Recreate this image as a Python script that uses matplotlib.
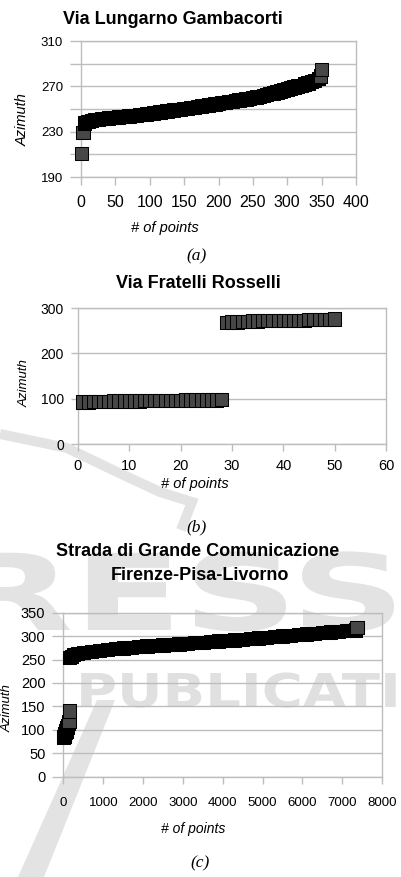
import numpy as np
import matplotlib
matplotlib.use("Agg")
import matplotlib.pyplot as plt
from matplotlib.textpath import TextPath
from matplotlib.patches import PathPatch, Polygon
from matplotlib.font_manager import FontProperties
from matplotlib.transforms import Affine2D, IdentityTransform
from matplotlib.lines import Line2D

# ---------------- data ----------------
title_a = "Via Lungarno Gambacorti"
a_x = [1, 3, 5, 10, 15, 20, 25, 30, 35, 40, 45, 50, 55, 60, 65, 70, 75, 80, 85, 90,
       95, 100, 105, 110, 115, 120, 125, 130, 135, 140, 145, 150, 155, 160, 165, 170,
       175, 180, 185, 190, 195, 200, 205, 210, 215, 220, 225, 230, 235, 240, 245, 250,
       255, 260, 265, 270, 275, 280, 285, 290, 295, 300, 305, 310, 315, 320, 325, 330,
       335, 340, 345, 348, 350]
a_y = [211, 229, 237.5, 239, 240, 240.5, 241, 241.5, 241.8, 242, 242.3, 242.6, 242.9,
       243.2, 243.5, 243.8, 244.2, 244.5, 244.9, 245.3, 245.7, 246.1, 246.5, 246.9,
       247.3, 247.7, 248.1, 248.5, 249, 249.4, 249.8, 250.2, 250.7, 251.1, 251.6, 252,
       252.5, 253, 253.5, 254, 254.5, 255, 255.5, 256, 256.4, 256.9, 257.4, 257.9,
       258.4, 258.9, 259.4, 260, 260.6, 261.2, 261.9, 262.6, 263.4, 264.2, 265.1, 266,
       266.8, 267.6, 268.5, 269.3, 270.2, 271, 272, 273, 274, 275.2, 276.8, 279, 285]
a_xticks = [0, 50, 100, 150, 200, 250, 300, 350, 400]
a_yticks = [190, 210, 230, 250, 270, 290, 310]
a_ylabels = ["190", "", "230", "", "270", "", "310"]

title_b = "Via Fratelli Rosselli"
b_x = list(range(1, 51))
b_y = [93, 93, 94, 94, 94, 94, 95, 95, 95, 95, 95, 95, 96, 96, 96, 96, 96, 96, 96, 96,
       97, 97, 97, 97, 97, 97, 97, 98,
       268, 269, 269, 270, 270, 271, 271, 272, 272, 272, 272, 273, 273, 273, 273, 273,
       274, 274, 274, 274, 274, 276]
b_xticks = [0, 10, 20, 30, 40, 50, 60]
b_yticks = [0, 100, 200, 300]

title_c1 = "Strada di Grande Comunicazione"
title_c2 = "Firenze-Pisa-Livorno"
c_x = [1, 10, 20, 30, 45, 60, 75, 90, 105, 120, 135, 148,
       155, 200, 250, 350, 500, 700, 900, 1100, 1300, 1500, 1700, 1900, 2100, 2300,
       2500, 2700, 2900, 3100, 3300, 3500, 3700, 3900, 4100, 4300, 4500, 4700, 4900,
       5100, 5300, 5500, 5700, 5900, 6100, 6300, 6500, 6700, 6900, 7100, 7250, 7340, 7370]
c_y = [84, 86, 88, 91, 94, 97, 101, 105, 109, 113, 117, 140,
       254, 257, 260, 263, 265, 267.5, 269.5, 271.5, 273, 274.5, 276, 277.5, 278.7, 280,
       281, 282.2, 283.4, 284.6, 285.8, 287, 288.3, 289.6, 290.8, 292, 293.3, 294.6, 296,
       297.3, 298.7, 300.2, 301.6, 303, 304.5, 306, 307.5, 309, 310.5, 312, 312.5, 313, 319]
c_xticks = [0, 1000, 2000, 3000, 4000, 5000, 6000, 7000, 8000]
c_yticks = [0, 50, 100, 150, 200, 250, 300, 350]

xlabel_txt = "# of points"
ylabel_txt = "Azimuth"
captions = ["(a)", "(b)", "(c)"]

assert len(a_x) == len(a_y) and len(b_x) == len(b_y) and len(c_x) == len(c_y)

# ---------------- style ----------------
W, H = 402, 877
GRID = "#bdbdbd"
FACE = "#474747"
WM = "#e3e3e3"
SANS = ["Liberation Sans", "DejaVu Sans"]
SERIF = ["Liberation Serif", "DejaVu Serif"]
MS = 9.6
MEW = 0.75

fig = plt.figure(figsize=(W / 100, H / 100), dpi=100)
fig.patch.set_facecolor("white")


def fx(px):
    return px / W


def fy(py):
    return 1 - py / H


def add_ax(l, t, r, b):
    ax = fig.add_axes([l / W, 1 - b / H, (r - l) / W, (b - t) / H])
    ax.set_facecolor("none")
    for s in ax.spines.values():
        s.set_color(GRID)
        s.set_linewidth(1.0)
    ax.yaxis.grid(True, color=GRID, lw=1.0)
    ax.set_axisbelow(True)
    return ax


def series(ax, x, y, dense_px):
    pts = ax.transData.transform(np.column_stack([x, y]))
    d = np.hypot(np.diff(pts[:, 0]), np.diff(pts[:, 1]))
    faces = [("black" if dd < dense_px else FACE) for dd in d] + [FACE]
    ax.scatter(x, y, marker="s", s=MS ** 2, facecolors=faces, edgecolors="black",
               linewidths=MEW, zorder=3, clip_on=False)


def ticks(ax, xl, yl, xsize, ysize, xpad, ypad):
    ax.tick_params(axis="x", direction="out", length=xl, width=1.0, color=GRID,
                   pad=xpad, labelsize=xsize, labelcolor="black")
    ax.tick_params(axis="y", direction="out", length=yl, width=1.0, color=GRID,
                   pad=ypad, labelsize=ysize, labelcolor="black")
    for lab in ax.get_xticklabels() + ax.get_yticklabels():
        lab.set_family(SANS)


# ---------------- watermark ----------------
bold = FontProperties(family="DejaVu Sans", weight="bold")
tp = TextPath((0, 0), "RESS", size=100, prop=bold)
fig.add_artist(PathPatch(tp, transform=Affine2D().scale(1.6, 1.06).translate(-50, H - 630),
                         color=WM, lw=0, zorder=-5))
tp2 = TextPath((0, 0), "PUBLICATIONS", size=100, prop=bold)
fig.add_artist(PathPatch(tp2, transform=Affine2D().scale(0.56, 0.466).translate(76, H - 707),
                         color="#e0e0e0", lw=0, zorder=-5))
fig.add_artist(Polygon([[97, H - 700], [115, H - 700], [44, H - 877], [18, H - 877]],
                       closed=True, transform=IdentityTransform(), color=WM, lw=0, zorder=-5))
fig.add_artist(Line2D([0, 67, 117, 160, 192, 181], [H - 434, H - 448, H - 472, H - 492, H - 502, H - 530],
                      transform=IdentityTransform(), color=WM, lw=7.2, zorder=-5,
                      solid_joinstyle="miter", solid_capstyle="butt"))

# ---------------- panel (a) ----------------
ax = add_ax(81, 41, 356, 177)
ax.set_xlim(0, 400)
ax.set_ylim(190, 310)
ax.set_xticks(a_xticks)
ax.set_yticks(a_yticks)
ax.set_yticklabels(a_ylabels)
ticks(ax, 6, 8, 11.5, 9.5, 7, 5)
series(ax, a_x, a_y, 5)
fig.text(fx(173), fy(19), title_a, ha="center", va="center", fontsize=13,
         fontweight="bold", family=SANS)
fig.text(fx(165), fy(228), xlabel_txt, ha="center", va="center", fontsize=10.5,
         style="italic", family=SANS)
fig.text(fx(23), fy(120), ylabel_txt, ha="center", va="center", fontsize=10.5,
         style="italic", rotation=90, family=SANS)
fig.text(fx(197), fy(256), captions[0], ha="center", va="center", fontsize=12.5,
         style="italic", family=SERIF)

# ---------------- panel (b) ----------------
ax = add_ax(78, 308, 386, 444)
ax.set_xlim(0, 60)
ax.set_ylim(0, 300)
ax.set_xticks(b_xticks)
ax.set_yticks(b_yticks)
ticks(ax, 5, 5, 10.5, 10, 6, 5)
series(ax, b_x, b_y, 0)
fig.text(fx(198), fy(283), title_b, ha="center", va="center", fontsize=13,
         fontweight="bold", family=SANS)
fig.text(fx(195), fy(484), xlabel_txt, ha="center", va="center", fontsize=10.5,
         style="italic", family=SANS)
fig.text(fx(25), fy(383), ylabel_txt, ha="center", va="center", fontsize=9.5,
         style="italic", rotation=90, family=SANS)
fig.text(fx(197), fy(527), captions[1], ha="center", va="center", fontsize=12.5,
         style="italic", family=SERIF)

# ---------------- panel (c) ----------------
ax = add_ax(63.5, 612.7, 382, 776.5)
ax.set_xlim(0, 8000)
ax.set_ylim(0, 350)
ax.set_xticks(c_xticks)
ax.set_yticks(c_yticks)
ticks(ax, 5, 8, 9.5, 10.5, 10, 5)
series(ax, c_x, c_y, 9)
fig.text(fx(198), fy(552), title_c1, ha="center", va="center", fontsize=13,
         fontweight="bold", family=SANS)
fig.text(fx(200), fy(575), title_c2, ha="center", va="center", fontsize=13,
         fontweight="bold", family=SANS)
fig.text(fx(193), fy(829), xlabel_txt, ha="center", va="center", fontsize=10,
         style="italic", family=SANS)
fig.text(fx(8), fy(708), ylabel_txt, ha="center", va="center", fontsize=9.5,
         style="italic", rotation=90, family=SANS)
fig.text(fx(200), fy(863), captions[2], ha="center", va="center", fontsize=12.5,
         style="italic", family=SERIF)

fig.savefig("out.png", dpi=100, facecolor="white")
